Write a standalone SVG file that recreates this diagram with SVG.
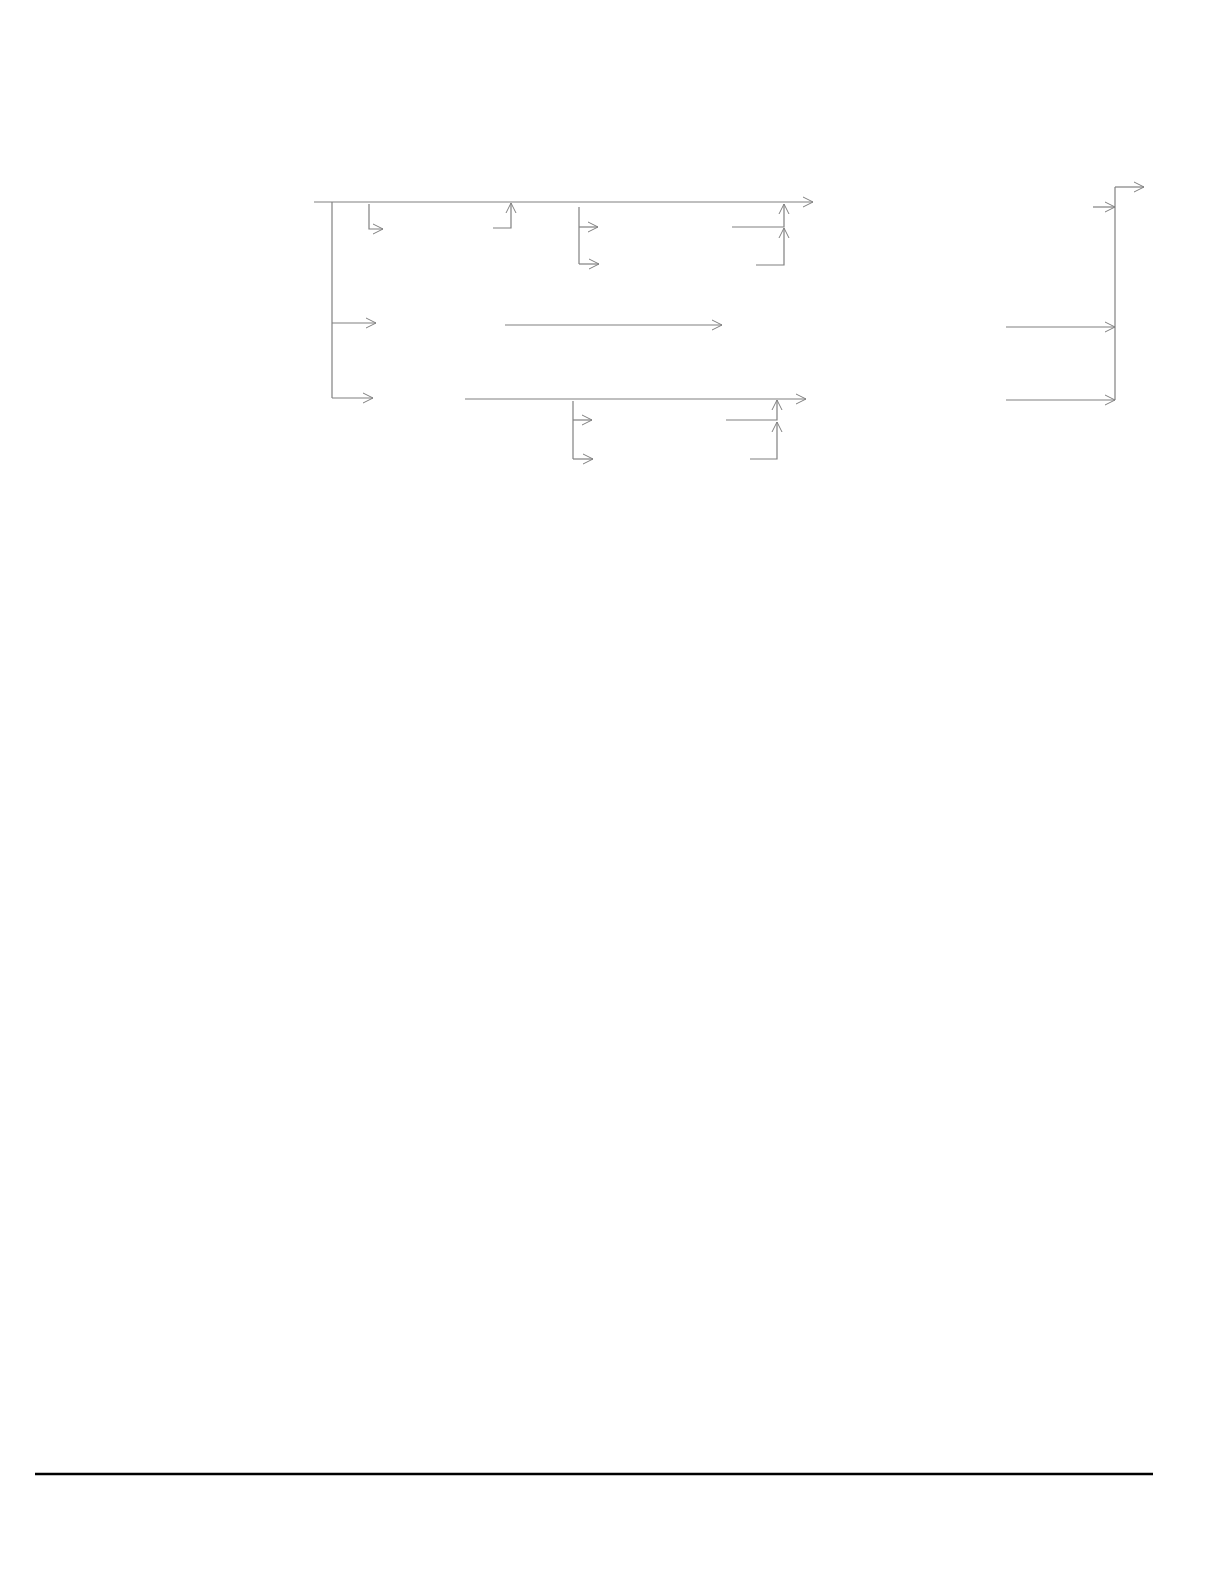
<svg xmlns="http://www.w3.org/2000/svg" width="1224" height="1582" viewBox="0 0 1224 1582">
<defs>
<marker id="ah" viewBox="0 0 12 12" refX="11" refY="6" markerWidth="12" markerHeight="12" markerUnits="userSpaceOnUse" orient="auto">
<path d="M1,1 L11,6 L1,11" fill="none" stroke="#808080" stroke-width="1"/>
</marker>
<style>
.c{fill:none;stroke:#808080;stroke-width:1.2}
.a{marker-end:url(#ah)}
</style>
</defs>
<rect width="1224" height="1582" fill="#ffffff"/>
<g id="connectors">
<path class="c a" d="M314,202 L813,202"/>
<path class="c" d="M332,202 L332,398"/>
<path class="c a" d="M332,323 L376,323"/>
<path class="c a" d="M332,398 L373,398"/>
<path class="c a" d="M369,204 L369,229 L383,229"/>
<path class="c a" d="M493,228 L511,228 L511,203"/>
<path class="c" d="M579,207 L579,264"/>
<path class="c a" d="M579,227 L598,227"/>
<path class="c a" d="M579,264 L599,264"/>
<path class="c a" d="M732,227 L784,227 L784,204"/>
<path class="c a" d="M756,265 L784,265 L784,228"/>
<path class="c a" d="M505,325 L722,325"/>
<path class="c a" d="M465,399 L806,399"/>
<path class="c" d="M573,401 L573,459"/>
<path class="c a" d="M573,420 L592,420"/>
<path class="c a" d="M573,459 L593,459"/>
<path class="c a" d="M726,420 L777,420 L777,400"/>
<path class="c a" d="M750,459 L777,459 L777,422"/>
<path class="c" d="M1115,400 L1115,187"/>
<path class="c a" d="M1115,187 L1144,187"/>
<path class="c a" d="M1093,207 L1115,207"/>
<path class="c a" d="M1006,327 L1115,327"/>
<path class="c a" d="M1006,400 L1115,400"/>
</g>
<line x1="35" y1="1474" x2="1153" y2="1474" stroke="#000000" stroke-width="2.5"/>
</svg>
